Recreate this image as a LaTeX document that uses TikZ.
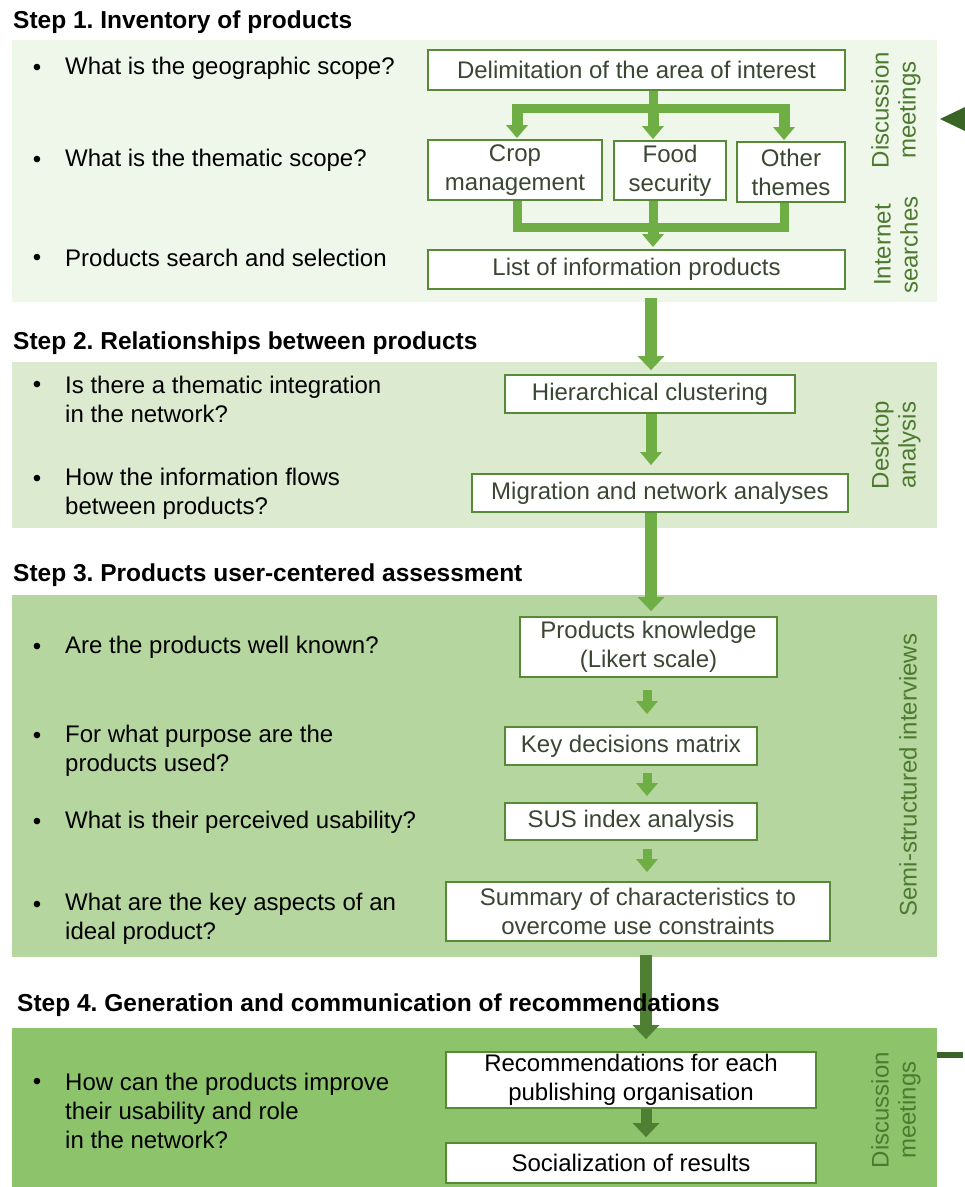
\documentclass[tikz,border=0pt]{standalone}
\usepackage{fontspec}
\setmainfont{Liberation Sans}
\usetikzlibrary{arrows.meta,calc}
\definecolor{pone}{HTML}{EFF6EA}
\definecolor{ptwo}{HTML}{DCEBD0}
\definecolor{pthree}{HTML}{B6D6A0}
\definecolor{pfour}{HTML}{8DC46B}
\definecolor{boxc}{HTML}{568A36}
\definecolor{boxtxt}{HTML}{3A4632}
\definecolor{labc}{HTML}{4E7A30}
\definecolor{arrg}{HTML}{6FAE45}
\definecolor{arrd}{HTML}{4F7F33}
\definecolor{fbc}{HTML}{3A6426}
\frenchspacing
\begin{document}
\begin{tikzpicture}[x=1pt,y=-1pt,
  txt/.style={font=\fontsize{24}{29}\selectfont, inner sep=0pt},
  ttl/.style={font=\bfseries\fontsize{24.5}{28}\selectfont, inner sep=0pt, anchor=west},
  ques/.style={txt, anchor=west, align=left},
  bul/.style={txt, anchor=center},
  box/.style={txt, draw=boxc, line width=1.8pt, fill=white, align=center, text=boxtxt, minimum width=#1},
  boxblk/.style={box=#1, text=black},
  side/.style={font=\fontsize{24}{27}\selectfont, inner sep=0pt, rotate=90, align=center, text=labc},
  panel/.style={draw=none, inner sep=0pt, anchor=north west},
  tinyarr/.style={arrg, line width=9pt, -{Triangle[width=21pt,length=13pt]}},
  smallarr/.style={arrg, line width=11pt, -{Triangle[width=21pt,length=13pt]}},
  bigarr/.style={arrg, line width=12pt, -{Triangle[width=26pt,length=14pt]}},
  darkarr/.style={arrd, line width=12pt, -{Triangle[width=26pt,length=14pt]}},
  fatline/.style={arrg, line width=9pt, line join=miter},
]
\useasboundingbox (0,0) rectangle (965,1187);
\fill[white] (0,0) rectangle (965,1187);

% panels
\node[panel, fill=pone, minimum width=925pt, minimum height=262pt] (p1) at (12,40) {};
\node[panel, fill=ptwo, minimum width=925pt, minimum height=166pt] (p2) at (12,362) {};
\node[panel, fill=pthree, minimum width=925pt, minimum height=362pt] (p3) at (12,595) {};
\node[panel, fill=pfour, minimum width=925pt, minimum height=160pt] (p4) at (12,1028) {};

% step 1 boxes
\node[box=417pt, minimum height=40pt] (delim) at (636.5,70) {Delimitation of the area of interest};
\node[box=174pt, minimum height=60pt] (crop) at (515,170) {Crop\\management};
\node[box=112pt, minimum height=59pt] (food) at (670,170.5) {Food\\security};
\node[box=108pt, minimum height=60pt] (other) at (791,172) {Other\\themes};
\node[box=417pt, minimum height=39pt] (list) at (636.5,269.5) {List of information products};

% step 2 boxes
\node[box=290pt, minimum height=38pt] (hier) at (650,394) {Hierarchical clustering};
\node[box=376pt, minimum height=38pt] (migr) at (660,493) {Migration and network analyses};

% step 3 boxes
\node[box=257pt, minimum height=60pt] (know) at (648.5,647) {Products knowledge\\(Likert scale)};
\node[box=252pt, minimum height=38pt] (key) at (631,746) {Key decisions matrix};
\node[box=252pt, minimum height=37pt] (sus) at (631,821.5) {SUS index analysis};
\node[box=384pt, minimum height=59pt] (summ) at (638,911.5) {Summary of characteristics to\\overcome use constraints};

% step 4 boxes
\node[boxblk=370pt, minimum height=56pt] (rec) at (631,1080) {Recommendations for each\\publishing organisation};
\node[boxblk=370pt, minimum height=40pt] (soc) at (631,1163) {Socialization of results};

% questions
\node[bul] (b1) at (37,70) {•};
\node[ques] (q1) at (65,68) {What is the geographic scope?};
\node[bul] (b2) at (37,162) {•};
\node[ques] (q2) at (65,160) {What is the thematic scope?};
\node[bul] (b3) at (37,260) {•};
\node[ques] (q3) at (65,258) {Products search and selection};
\node[bul] (b4) at (37,387) {•};
\node[ques] (q4) at (65,399.5) {Is there a thematic integration\\in the network?};
\node[bul] (b5) at (37,481) {•};
\node[ques] (q5) at (65,493.5) {How the information flows\\between products?};
\node[bul] (b6) at (37,649) {•};
\node[ques] (q6) at (65,647) {Are the products well known?};
\node[bul] (b7) at (37,738) {•};
\node[ques] (q7) at (65,750.5) {For what purpose are the\\products used?};
\node[bul] (b8) at (37,824) {•};
\node[ques] (q8) at (65,822) {What is their perceived usability?};
\node[bul] (b9) at (37,907) {•};
\node[ques] (q9) at (65,919) {What are the key aspects of an\\ideal product?};
\node[bul] (b10) at (37,1084) {•};
\node[ques] (q10) at (65,1111) {How can the products improve\\their usability and role\\in the network?};

% side labels
\node[side] (s1) at (896,110) {Discussion\\meetings};
\node[side] (s2) at (896,245) {Internet\\searches};
\node[side] (s3) at (896,445) {Desktop\\analysis};
\node[side] (s4) at (908,775) {Semi-structured interviews};
\node[side] (s5) at (896,1110) {Discussion\\meetings};

% step 1 connectors
\coordinate (xl) at (517,0);
\coordinate (xc) at (653,0);
\coordinate (xr) at (784,0);
\coordinate (jtop) at (653,108);
\coordinate (jbot) at (653,227);
\draw[fatline] (delim.south -| xc) -- (jtop);
\draw[fatline] ($(jtop -| xl)+(-4.5,0)$) -- ($(jtop -| xr)+(4.5,0)$);
\draw[smallarr] ($(jtop -| xl)+(0,-4.5)$) -- ($(crop.north -| xl)+(0,-1)$);
\draw[smallarr] (jtop) -- ($(food.north -| xc)+(0,-1)$);
\draw[smallarr] ($(jtop -| xr)+(0,-4.5)$) -- ($(other.north -| xr)+(0,-1)$);
\draw[fatline] (crop.south -| xl) -- ($(jbot -| xl)+(0,4.5)$);
\draw[fatline] (food.south -| xc) -- (jbot);
\draw[fatline] (other.south -| xr) -- ($(jbot -| xr)+(0,4.5)$);
\draw[fatline] ($(jbot -| xl)+(-4.5,0)$) -- ($(jbot -| xr)+(4.5,0)$);
\draw[smallarr] (jbot) -- ($(list.north -| xc)+(0,-2)$);

% transitions
\coordinate (xa) at (651,0);
\draw[bigarr] ($(p1.south -| xa)+(0,-4)$) -- ($(hier.north -| xa)+(0,-4)$);
\draw[smallarr] (hier.south -| xa) -- ($(migr.north -| xa)+(0,-8)$);
\draw[bigarr] (migr.south -| xa) -- ($(know.north -| xa)+(0,-5)$);
\coordinate (xb) at (647,0);
\draw[tinyarr] ($(know.south -| xb)+(0,12)$) -- ($(key.north -| xb)+(0,-12)$);
\draw[tinyarr] ($(key.south -| xb)+(0,7)$) -- ($(sus.north -| xb)+(0,-6)$);
\draw[tinyarr] ($(sus.south -| xb)+(0,8)$) -- ($(summ.north -| xb)+(0,-9)$);
\coordinate (xd) at (646,0);
\draw[darkarr] ($(p3.south -| xd)+(0,-2)$) -- ($(rec.north -| xd)+(0,-12)$);
\draw[darkarr, line width=11pt] (rec.south -| xd) -- ($(soc.north -| xd)+(0,-5)$);

% titles (drawn over the arrows)
\node[ttl] (t1) at (13,22) {Step 1. Inventory of products};
\node[ttl] (t2) at (13,343) {Step 2. Relationships between products};
\node[ttl] (t3) at (13,575) {Step 3. Products user-centered assessment};
\node[ttl] (t4) at (17,1005) {Step 4. Generation and communication of recommendations};

% feedback loop fragments at right edge
\coordinate (fbtip) at (940,119);
\coordinate (fbend) at (963,1055);
\fill[fbc] (fbtip) -- (965,107) -- (965,131) -- cycle;
\draw[fbc, line width=6pt] (p4.east |- fbend) -- (fbend);
\end{tikzpicture}
\end{document}
